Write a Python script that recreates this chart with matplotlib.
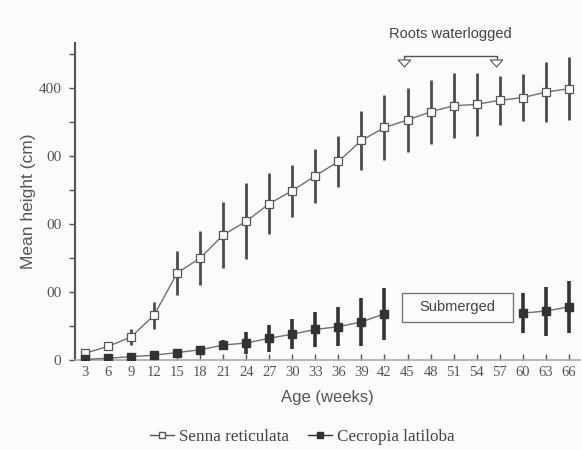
import numpy as np
import matplotlib
matplotlib.use("Agg")
import matplotlib.pyplot as plt
from matplotlib.ticker import MultipleLocator

# data (mean height, cm)
weeks = [3, 6, 9, 12, 15, 18, 21, 24, 27, 30, 33, 36, 39, 42, 45, 48, 51, 54, 57, 60, 63, 66]
senna = [10, 20, 34, 66, 128, 150, 184, 204, 230, 249, 271, 292, 323, 342, 353, 365, 374, 376, 382, 386, 394, 399]
senna_err = [4, 3, 12, 20, 32, 40, 48, 56, 45, 38, 40, 38, 44, 48, 47, 47, 48, 46, 36, 35, 44, 46]
nan = np.nan
cecropia = [1, 2.5, 5, 7, 11, 15, 22, 25, 32, 38, 45, 49, 56, 68, nan, nan, nan, nan, nan, 69, 72, 78]
cecropia_err = [0, 1, 2, 2, 3, 5, 8, 16, 20, 22, 26, 29, 35, 38, nan, nan, nan, nan, nan, 30, 36, 38]

ytick_vals = [0, 100, 200, 300, 400]
ytick_labels = ["0", "00", "00", "00", "400"]  # labels are clipped like this in the original

waterlog_start, waterlog_end = 44.6, 56.6
submerged_x = (44.3, 58.8)
submerged_y = (56, 98.5)

grey = "#555555"
serif = ["Liberation Serif", "DejaVu Serif"]
sans = ["Liberation Sans", "DejaVu Sans"]

fig = plt.figure(figsize=(5.82, 4.5), dpi=100, facecolor="#fbfbfb")
ax = fig.add_axes([0.129, 0.2, 0.868, 0.704])
ax.set_facecolor("#fbfbfb")

# Senna: open squares, thin grey line
ax.errorbar(weeks, senna, yerr=senna_err, fmt="none", ecolor="#4d4d4d", elinewidth=2, capsize=0, zorder=2)
ax.plot(weeks, senna, "-", color="#707070", lw=1, zorder=3)
ax.plot(weeks, senna, "s", ms=5.6, mfc="white", mec="#555555", mew=0.9, zorder=4)

# Cecropia: filled squares, gap while submerged
ax.errorbar(weeks, cecropia, yerr=cecropia_err, fmt="none", ecolor="#333333", elinewidth=2.6, capsize=0, zorder=2)
ax.plot(weeks, cecropia, "-", color="#707070", lw=1, zorder=3)
ax.plot(weeks, cecropia, "s", ms=5.8, color="#333333", zorder=4)

ax.set_xlim(1.7, 67.5)
ax.set_ylim(0, 466)
ax.set_xticks(weeks)
ax.set_xticklabels([str(w) for w in weeks], family=serif, fontsize=10.5, color=grey)
ax.set_yticks(ytick_vals)
ax.set_yticklabels(ytick_labels, family=serif, fontsize=11, color=grey)
ax.yaxis.set_minor_locator(MultipleLocator(50))
ax.tick_params(axis="x", direction="in", length=4, width=1, color=grey, pad=4)
ax.tick_params(axis="y", which="both", direction="out", length=4, width=1, color=grey, pad=6)

for s in ["top", "right"]:
    ax.spines[s].set_visible(False)
ax.spines["left"].set_color(grey)
ax.spines["left"].set_linewidth(1.5)
ax.spines["bottom"].set_color("#aaaaaa")
ax.spines["bottom"].set_linewidth(1.2)

ax.set_ylabel("Mean height (cm)", family=sans, fontsize=12.5, color=grey, labelpad=2)
ax.set_xlabel("Age (weeks)", family=sans, fontsize=12, color=grey, labelpad=8)

# roots waterlogged bracket
ax.text((waterlog_start + waterlog_end) / 2, 480, "Roots waterlogged", ha="center", va="center",
        family=sans, fontsize=10.5, color="#444444", clip_on=False)
ax.plot([waterlog_start, waterlog_start, waterlog_end, waterlog_end], [438, 447, 447, 438],
        color=grey, lw=1, clip_on=False)
for xa in (waterlog_start, waterlog_end):
    ax.annotate("", xy=(xa, 427), xytext=(xa, 440), annotation_clip=False,
                arrowprops=dict(arrowstyle="simple,head_width=0.9,head_length=0.5,tail_width=0.3",
                                fc="white", ec=grey, lw=0.8))

# submerged box
ax.text(sum(submerged_x) / 2, sum(submerged_y) / 2, "Submerged", ha="center", va="center",
        family=sans, fontsize=10.5, color="#444444")
ax.add_patch(plt.Rectangle((submerged_x[0], submerged_y[0]), submerged_x[1] - submerged_x[0],
                           submerged_y[1] - submerged_y[0], fill=False, ec="#777777", lw=1))

# legend below the axes (line + marker handles)
h1 = plt.Line2D([], [], color="#555555", lw=1, marker="s", ms=5, mfc="white", mec="#555555")
h2 = plt.Line2D([], [], color="#333333", lw=1, marker="s", ms=5, mfc="#333333", mec="#333333")
fig.legend([h1, h2], ["Senna reticulata", "Cecropia latiloba"], loc="center", bbox_to_anchor=(0.52, 0.028),
           ncol=2, frameon=False, prop={"family": serif, "size": 12.3}, handlelength=1.4,
           handletextpad=0.3, columnspacing=1.1, labelcolor="#444444")

fig.savefig("out.png", dpi=100, facecolor=fig.get_facecolor())
